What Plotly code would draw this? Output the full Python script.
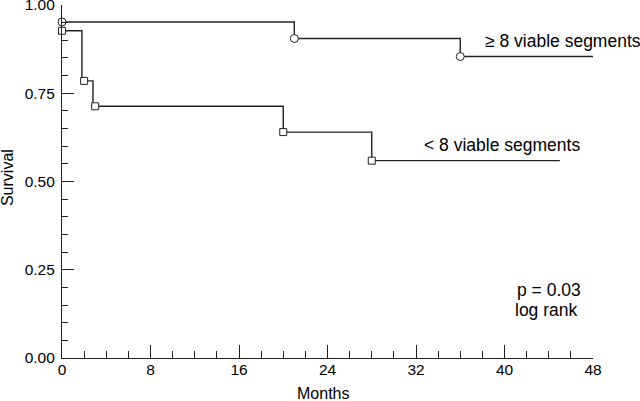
import plotly.graph_objects as go

# >= 8 viable segments
hi_months = [0, 21, 36, 48]
hi_surv = [0.952, 0.905, 0.854, 0.854]
hi_mark_months = [0, 21, 36]
hi_mark_surv = [0.952, 0.905, 0.854]

# < 8 viable segments
lo_months = [0, 1.8, 2.8, 20, 28, 45]
lo_surv = [0.927, 0.785, 0.713, 0.640, 0.559, 0.559]
lo_mark_months = [0, 2, 3, 20, 28]
lo_mark_surv = [0.927, 0.785, 0.713, 0.640, 0.559]

x_ticks = [0, 8, 16, 24, 32, 40, 48]
y_ticks = [0, 0.25, 0.5, 0.75, 1.0]

FONT = "Liberation Sans, Arial, sans-serif"
LINE = "#222"

fig = go.Figure()
for xs, ys in [(hi_months, hi_surv), (lo_months, lo_surv)]:
    fig.add_trace(go.Scatter(x=xs, y=ys, mode="lines", line_shape="hv",
                             line=dict(color=LINE, width=1.4), showlegend=False,
                             cliponaxis=False))
fig.add_trace(go.Scatter(x=hi_mark_months, y=hi_mark_surv, mode="markers", showlegend=False,
                         cliponaxis=False,
                         marker=dict(symbol="circle", size=8, color="white",
                                     line=dict(color=LINE, width=1))))
fig.add_trace(go.Scatter(x=lo_mark_months, y=lo_mark_surv, mode="markers", showlegend=False,
                         cliponaxis=False,
                         marker=dict(symbol="square", size=7, color="white",
                                     line=dict(color=LINE, width=1))))

# curve labels and test result
label_font = dict(size=17.5)
fig.add_annotation(x=38.07, y=0.897, text="≥ 8 viable segments", showarrow=False,
                   xanchor="left", font=label_font)
fig.add_annotation(x=32.5, y=0.604, text="< 8 viable segments", showarrow=False,
                   xanchor="left", font=label_font)
fig.add_annotation(x=40.96, y=0.192, text="p = 0.03", showarrow=False,
                   xanchor="left", font=label_font)
fig.add_annotation(x=40.8, y=0.135, text="log rank", showarrow=False,
                   xanchor="left", font=label_font)

# axis titles
fig.add_annotation(x=-0.1015, y=0.51, xref="paper", yref="paper", text="Survival",
                   textangle=-90, showarrow=False, xanchor="center", yanchor="middle",
                   font=dict(size=16))
fig.add_annotation(x=0.4915, y=-0.100, xref="paper", yref="paper", text="Months",
                   showarrow=False, xanchor="center", yanchor="middle", font=dict(size=16))

fig.update_layout(
    width=640, height=401,
    margin=dict(l=62, r=47, t=5, b=43),
    paper_bgcolor="white", plot_bgcolor="white",
    font=dict(family=FONT, size=15.5, color="black"),
    xaxis=dict(range=[0, 48], tickvals=x_ticks, ticks="inside", ticklen=13,
               tickcolor=LINE, showline=True, linecolor=LINE, linewidth=1.2,
               showgrid=False, zeroline=False, automargin=False,
               ticklabeloverflow="allow", ticklabelstandoff=-3,
               minor=dict(dtick=2, ticks="inside", ticklen=7, tickcolor=LINE)),
    yaxis=dict(range=[0, 1], tickvals=y_ticks, tickformat=".2f", ticks="inside",
               ticklen=12, tickcolor=LINE, showline=True, linecolor=LINE, linewidth=1.2,
               showgrid=False, zeroline=False, automargin=False,
               ticklabeloverflow="allow", ticklabelstandoff=3,
               minor=dict(dtick=0.05, ticks="inside", ticklen=6, tickcolor=LINE)),
)

fig.write_html("out.html", config={"displayModeBar": False},
               post_script="document.body.style.margin='0';")
